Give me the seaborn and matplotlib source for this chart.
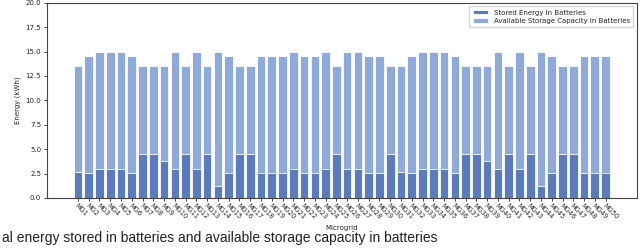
import numpy as np
import pandas as pd
import seaborn as sns
import matplotlib
matplotlib.use("Agg")
import matplotlib.pyplot as plt

# values (kWh)
microgrids = ["MG%d" % i for i in range(1, 51)]
capacity = [13.5, 14.5, 15, 15, 15, 14.5, 13.5, 13.5, 13.5, 15,
            13.5, 15, 13.5, 15, 14.5, 13.5, 13.5, 14.5, 14.5, 14.5,
            15, 14.5, 14.5, 15, 13.5, 15, 15, 14.5, 14.5, 13.5,
            13.5, 14.5, 15, 15, 15, 14.5, 13.5, 13.5, 13.5, 15,
            13.5, 15, 13.5, 15, 14.5, 13.5, 13.5, 14.5, 14.5, 14.5]
stored = [2.7, 2.6, 3.0, 3.0, 3.0, 2.6, 4.5, 4.5, 3.8, 3.0,
          4.5, 3.0, 4.5, 1.2, 2.6, 4.5, 4.5, 2.6, 2.6, 2.6,
          3.0, 2.6, 2.6, 3.0, 4.5, 3.0, 3.0, 2.6, 2.6, 4.5,
          2.7, 2.6, 3.0, 3.0, 3.0, 2.6, 4.5, 4.5, 3.8, 3.0,
          4.5, 3.0, 4.5, 1.2, 2.6, 4.5, 4.5, 2.6, 2.6, 2.6]

df = pd.DataFrame({"Microgrid": microgrids, "capacity": capacity, "stored": stored})

dark = "#5a7bbf"
light = "#8eaadc"

sns.set_style("ticks")
plt.rcParams["font.family"] = ["DejaVu Sans"]

fig, ax = plt.subplots(figsize=(6.4, 2.5), dpi=100)
fig.subplots_adjust(left=0.073, right=0.995, top=0.989, bottom=0.208)

# full capacity behind, stored energy in front -> stacked look
sns.barplot(data=df, x="Microgrid", y="capacity", color=light, saturation=1,
            width=0.8, edgecolor="white", linewidth=0.6,
            label="Available Storage Capacity in Batteries", ax=ax)
sns.barplot(data=df, x="Microgrid", y="stored", color=dark, saturation=1,
            width=0.8, edgecolor="white", linewidth=0.6,
            label="Stored Energy in Batteries", ax=ax)

ax.set_xlim(-2.9, len(microgrids) + 1.9)
ax.set_ylim(0, 20)
ax.set_yticks(np.arange(0, 20.1, 2.5))
ax.tick_params(axis="y", labelsize=5, length=2.5, width=0.6, pad=1.5)
ax.tick_params(axis="x", labelsize=4.8, length=2.5, width=0.6, pad=1)
plt.setp(ax.get_xticklabels(), rotation=-45, ha="left", rotation_mode="anchor")
ax.set_xlabel("Microgrid", fontsize=5, labelpad=3)
ax.set_ylabel("Energy (kWh)", fontsize=5, labelpad=3)
for s in ax.spines.values():
    s.set_linewidth(0.8)
    s.set_color("#444444")

h, l = ax.get_legend_handles_labels()
ax.legend(h[::-1], l[::-1], loc="upper right", fontsize=5, frameon=True,
          fancybox=False, edgecolor="#cccccc", borderpad=0.5, handlelength=2.2,
          handleheight=0.6, labelspacing=0.3)

fig.text(0.003, 0.032, "al energy stored in batteries and available storage capacity in batteries",
         fontsize=10, color="#222222", family=["Liberation Sans", "DejaVu Sans"])

fig.savefig("out.png", dpi=100)
